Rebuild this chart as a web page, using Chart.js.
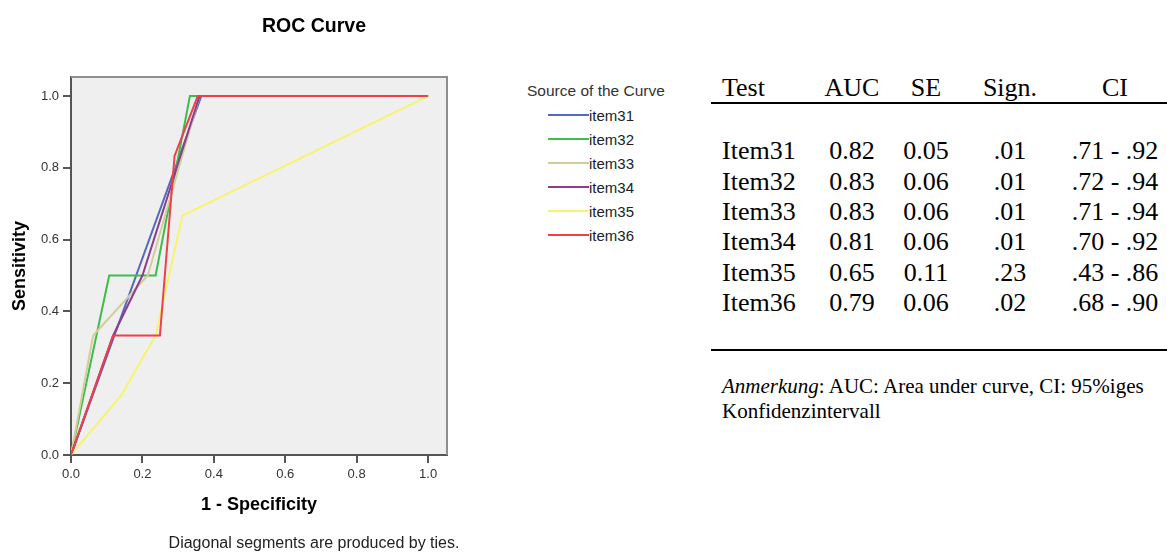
<!DOCTYPE html>
<html>
<head>
<meta charset="utf-8">
<title>ROC Curve</title>
<script src="https://cdn.jsdelivr.net/npm/chart.js@4.4.1/dist/chart.umd.min.js"></script>
<style>
  html, body { margin: 0; padding: 0; background: #fff; }
  #wrap { position: relative; width: 1167px; height: 552px; overflow: hidden; }
  #roc { position: absolute; left: 0; top: 0; }
  .t { position: absolute; white-space: nowrap; }
  .rule { position: absolute; left: 711px; width: 456px; height: 2px; background: #000; }
  .swatch { position: absolute; height: 2px; width: 41px; }
</style>
</head>
<body>
<div id="wrap">
  <canvas id="roc" width="500" height="552"></canvas>
</div>
<script>
// ROC curve points per item: false positive rate (1 - specificity) and sensitivity
const seriesNames = ['item31', 'item32', 'item33', 'item34', 'item35', 'item36'];
const seriesColors = ['#5468c0', '#3dbd4b', '#d3cd9c', '#8a3e8d', '#f8f36c', '#ef3f47'];

const fpr31  = [0, 0.365, 1];
const sens31 = [0, 1, 1];
const fpr32  = [0, 0.107, 0.237, 0.333, 1];
const sens32 = [0, 0.5, 0.5, 1, 1];
const fpr33  = [0, 0.062, 0.215, 0.36, 1];
const sens33 = [0, 0.333, 0.5, 1, 1];
const fpr34  = [0, 0.118, 0.2, 0.36, 1];
const sens34 = [0, 0.333, 0.5, 1, 1];
const fpr35  = [0, 0.141, 0.237, 0.312, 1];
const sens35 = [0, 0.167, 0.333, 0.667, 1];
const fpr36  = [0, 0.118, 0.249, 0.29, 0.355, 1];
const sens36 = [0, 0.333, 0.333, 0.833, 1, 1];

const fprSeries  = [fpr31, fpr32, fpr33, fpr34, fpr35, fpr36];
const sensSeries = [sens31, sens32, sens33, sens34, sens35, sens36];

const axisTicks = [0, 0.2, 0.4, 0.6, 0.8, 1.0];
const axisTickLabels = ['0.0', '0.2', '0.4', '0.6', '0.8', '1.0'];

// summary table
const tableHeaders = ['Test', 'AUC', 'SE', 'Sign.', 'CI'];
const testNames  = ['Item31', 'Item32', 'Item33', 'Item34', 'Item35', 'Item36'];
const aucValues  = ['0.82', '0.83', '0.83', '0.81', '0.65', '0.79'];
const seValues   = ['0.05', '0.06', '0.06', '0.06', '0.11', '0.06'];
const signValues = ['.01', '.01', '.01', '.01', '.23', '.02'];
const ciValues   = ['.71 - .92', '.72 - .94', '.71 - .94', '.70 - .92', '.43 - .86', '.68 - .90'];

const SANS = '"Liberation Sans", Arial, sans-serif';
const SERIF = '"Liberation Serif", "Times New Roman", serif';

// plot panel: grey background plus the top/right frame lines
const plotFrame = {
  id: 'plotFrame',
  beforeDraw(chart) {
    const { ctx, chartArea: a } = chart;
    ctx.save();
    ctx.fillStyle = '#efefef';
    ctx.fillRect(a.left, a.top, a.right - a.left, a.bottom - a.top);
    ctx.restore();
  },
  afterDraw(chart) {
    const { ctx, chartArea: a } = chart;
    ctx.save();
    ctx.strokeStyle = '#8e8e8e';
    ctx.lineWidth = 2;
    ctx.beginPath();
    ctx.moveTo(a.left, a.top);
    ctx.lineTo(a.right, a.top);
    ctx.lineTo(a.right, a.bottom);
    ctx.stroke();
    ctx.restore();
  }
};

function axisOptions(titleText, titlePadding, fitter) {
  return {
    type: 'linear',
    min: 0,
    max: 1.053,
    afterBuildTicks: s => { s.ticks = axisTicks.map(v => ({ value: v })); },
    afterFit: fitter,
    ticks: {
      autoSkip: false,
      maxRotation: 0,
      padding: 4,
      color: '#333',
      font: { family: SANS, size: 13 },
      callback: (v, i) => axisTickLabels[i]
    },
    grid: { drawOnChartArea: false, drawTicks: true, tickLength: 8, color: '#555', lineWidth: 2 },
    border: { display: true, color: '#555', width: 2 },
    title: {
      display: true,
      text: titleText,
      color: '#000',
      font: { family: SANS, size: 18, weight: 'bold' },
      padding: titlePadding
    }
  };
}

new Chart(document.getElementById('roc'), {
  type: 'scatter',
  data: {
    datasets: seriesNames.map((name, i) => ({
      label: name,
      data: fprSeries[i].map((x, j) => ({ x: x, y: sensSeries[i][j] })),
      showLine: true,
      borderColor: seriesColors[i],
      backgroundColor: seriesColors[i],
      borderWidth: 2,
      pointRadius: 0,
      tension: 0,
      fill: false,
      order: seriesNames.length - i
    }))
  },
  options: {
    responsive: false,
    animation: false,
    layout: { padding: { left: 0, top: 77, right: 53, bottom: 0 } },
    plugins: { legend: { display: false }, tooltip: { enabled: false }, title: { display: false } },
    scales: {
      x: axisOptions('1 - Specificity', { top: 0, bottom: 36 }, s => { s.height = 97; }),
      y: axisOptions('Sensitivity', { top: 9, bottom: 0 }, s => { s.width = 71; })
    }
  },
  plugins: [plotFrame]
});

// text placed by its baseline
const wrap = document.getElementById('wrap');
function addText(html, x, baseline, o) {
  const el = document.createElement('div');
  el.className = 't';
  const serif = !!o.serif;
  const asc = serif ? 0.891 : 0.905;
  const desc = serif ? 0.216 : 0.212;
  const size = o.size;
  const top = baseline - ((size - (asc + desc) * size) / 2 + asc * size);
  el.style.left = x + 'px';
  el.style.top = top + 'px';
  el.style.fontSize = size + 'px';
  el.style.lineHeight = size + 'px';
  el.style.fontFamily = serif ? SERIF : SANS;
  el.style.fontWeight = o.bold ? 'bold' : 'normal';
  el.style.color = o.color || '#000';
  if (o.align === 'center') el.style.transform = 'translateX(-50%)';
  if (o.align === 'right') el.style.transform = 'translateX(-100%)';
  el.innerHTML = html;
  wrap.appendChild(el);
  return el;
}

// chart title and footnote
addText('ROC Curve', 314, 33, { size: 19.5, bold: true, align: 'center' });
addText('Diagonal segments are produced by ties.', 314, 549, { size: 16, color: '#222', align: 'center' });

// legend
addText('Source of the Curve', 527, 96, { size: 15.5, color: '#333' });
seriesNames.forEach((name, i) => {
  const base = 120.5 + i * 24;
  const sw = document.createElement('div');
  sw.className = 'swatch';
  sw.style.left = '548px';
  sw.style.top = (base - 7) + 'px';
  sw.style.background = seriesColors[i];
  wrap.appendChild(sw);
  addText(name, 589, base, { size: 15, color: '#222' });
});

// summary table
const colX = [722, 852, 926, 1010, 1115];
const colAlign = ['left', 'center', 'center', 'center', 'center'];
tableHeaders.forEach((h, c) => addText(h, colX[c], 97, { size: 26, serif: true, align: colAlign[c] }));
const rule1 = document.createElement('div'); rule1.className = 'rule'; rule1.style.top = '102px'; wrap.appendChild(rule1);
const columns = [testNames, aucValues, seValues, signValues, ciValues];
testNames.forEach((_, r) => {
  const base = 160 + r * 30.35;
  columns.forEach((col, c) => addText(col[r], colX[c], base, { size: 26, serif: true, align: colAlign[c] }));
});
const rule2 = document.createElement('div'); rule2.className = 'rule'; rule2.style.top = '349px'; wrap.appendChild(rule2);
addText('<i>Anmerkung</i>: AUC: Area under curve, CI: 95%iges', 722, 394, { size: 21, serif: true });
addText('Konfidenzintervall', 722, 418.5, { size: 21, serif: true });
</script>
</body>
</html>
